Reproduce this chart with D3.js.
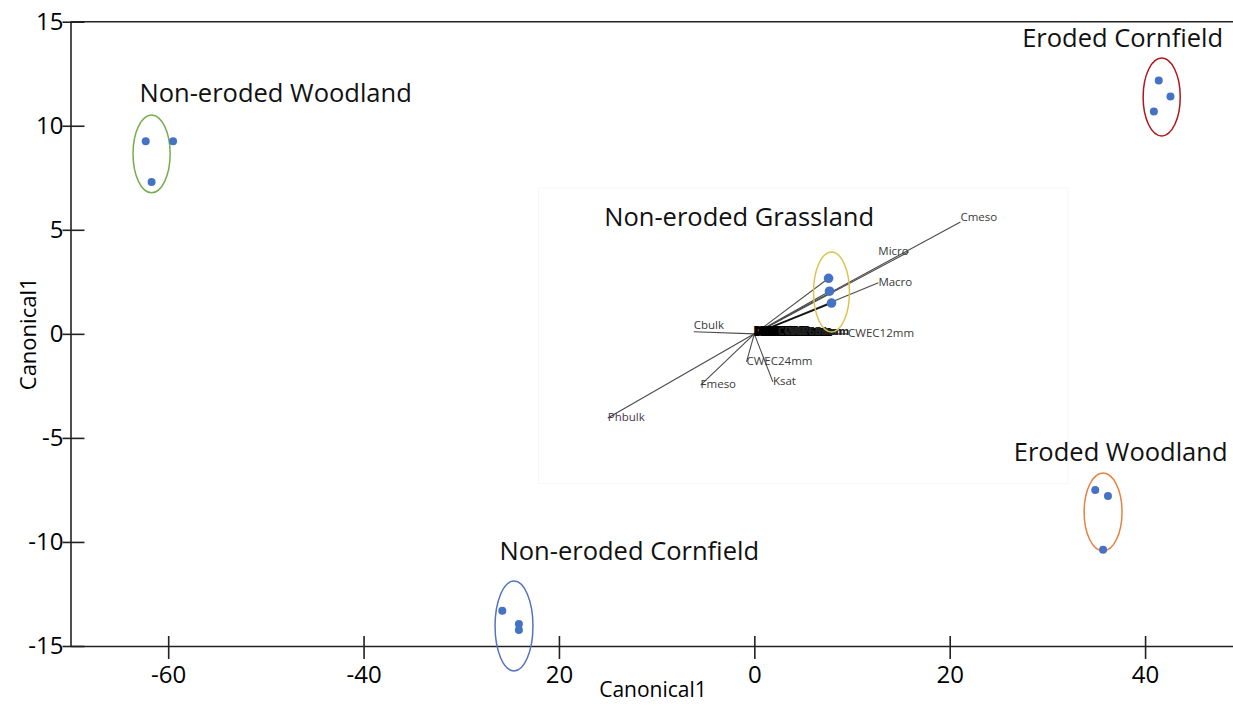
<!DOCTYPE html>
<html>
<head>
<meta charset="utf-8">
<script src="https://cdn.jsdelivr.net/npm/d3@7"></script>
<style>
  body { margin: 0; background: #fff; }
  text { font-family: "Open Sans", sans-serif; }
</style>
</head>
<body>
<svg id="chart"></svg>
<script>
const width = 1233
const height = 706

// axis ticks (the original labels -20 as "20")
const xTicks = [-60, -40, -20, 0, 20, 40]
const xTickLabels = ["-60", "-40", "20", "0", "20", "40"]
const yTicks = [15, 10, 5, 0, -5, -10, -15]

// groups, their 3 scores each, and the confidence ellipses
const groups = ["Non-eroded Woodland", "Eroded Cornfield", "Non-eroded Grassland", "Eroded Woodland", "Non-eroded Cornfield"]
const groupColors = ["#76AD4E", "#B0161E", "#D8C551", "#E8803F", "#5573BE"]
const pointsX = [[-62.3, -59.5, -61.7], [41.4, 42.6, 40.9], [7.6, 7.7, 7.9], [34.9, 36.2, 35.7], [-25.8, -24.1, -24.1]]
const pointsY = [[9.26, 9.26, 7.30], [12.18, 11.41, 10.69], [2.67, 2.05, 1.48], [-7.50, -7.79, -10.38], [-13.31, -13.94, -14.23]]
const ellipseX = [-61.7, 41.7, 7.9, 35.7, -24.6]
const ellipseY = [8.65, 11.38, 2.01, -8.56, -14.04]
const ellipseRX = [1.9, 1.9, 1.84, 1.94, 1.94]
const ellipseRY = [1.87, 1.87, 1.92, 1.87, 2.16]
const labelX = [-49.0, 37.7, -1.55, 37.5, -12.8]
const labelY = [11.57, 14.22, 5.62, -5.67, -10.43]

// biplot vectors pasted in the middle
const vecNames = ["Cmeso", "Micro", "Macro", "CWEC12mm", "Cbulk", "CWEC24mm", "Ksat", "Fmeso", "Phbulk"]
const vecX = [21.1, 15.8, 12.7, 9.6, -6.2, -0.8, 1.9, -5.5, -15.0]
const vecY = [5.38, 3.94, 2.45, 0, 0.1, -1.35, -2.31, -2.46, -4.04]
const vecAnchor = ["start", "end", "start", "start", "start", "start", "start", "start", "start"]
const crowdNames = ["DWEC12mm", "DWEC24mm", "DWEC6mm", "DWEC3mm", "CWEC6mm", "CWEC3mm", "DWEC1mm"]
const crowdX = [0, 0.6, 1.2, 1.8, 2.4, 3.0, 3.6]
const insetExtent = [[-22.1, 7.0], [32.1, -7.2]]

const x = d3.scaleLinear().domain([-70, 49]).range([70.5, 1233])
const y = d3.scaleLinear().domain([-15, 15]).range([646, 21.7])

const svg = d3.select("#chart")
              .attr("width", width)
              .attr("height", height)

// faint frame of the pasted biplot
svg.append("rect")
   .attr("x", x(insetExtent[0][0]))
   .attr("y", y(insetExtent[0][1]))
   .attr("width", x(insetExtent[1][0]) - x(insetExtent[0][0]))
   .attr("height", y(insetExtent[1][1]) - y(insetExtent[0][1]))
   .attr("fill", "none")
   .attr("stroke", "#f6f6f6")

const inset = svg.append("g")

inset.selectAll("line.vec")
     .data(vecNames)
     .join("line")
       .attr("class", "vec")
       .attr("x1", x(0)).attr("y1", y(0))
       .attr("x2", (d, i) => x(vecX[i]))
       .attr("y2", (d, i) => y(vecY[i]))
       .attr("stroke", "#4a4a4a")
       .attr("stroke-width", 1.1)

// lines from the origin to the grassland scores
inset.selectAll("line.pt")
     .data(pointsX[2])
     .join("line")
       .attr("class", "pt")
       .attr("x1", x(0)).attr("y1", y(0))
       .attr("x2", d => x(d))
       .attr("y2", (d, i) => y(pointsY[2][i]))
       .attr("stroke", (d, i) => i == 2 ? "#111" : "#4a4a4a")
       .attr("stroke-width", (d, i) => i == 2 ? 1.6 : 1.1)

inset.selectAll("text.crowd")
     .data(crowdNames)
     .join("text")
       .attr("class", "crowd")
       .attr("x", (d, i) => x(crowdX[i]))
       .attr("y", y(0))
       .attr("dy", "0.1em")
       .attr("font-size", 11)
       .attr("font-weight", "bold")
       .attr("fill", (d, i) => i < 4 ? "#000" : "#222")
       .attr("stroke", (d, i) => i < 4 ? "#000" : "none")
       .attr("stroke-width", 2)
       .text(d => d)

inset.selectAll("text.vec")
     .data(vecNames)
     .join("text")
       .attr("class", "vec")
       .attr("x", (d, i) => x(vecX[i]))
       .attr("y", (d, i) => y(vecY[i]))
       .attr("dy", (d, i) => i == 0 ? "-0.1em" : (i == 4 ? "-0.2em" : "0.3em"))
       .attr("text-anchor", (d, i) => vecAnchor[i])
       .attr("font-size", 11.5)
       .attr("fill", d => d == "Phbulk" ? "#4a3550" : "#3a3a3a")
       .text(d => d)

// axes with ticks crossing the line
const xAxis = svg.append("g")
                 .attr("transform", `translate(0,${y(-15)})`)
                 .call(d3.axisBottom(x).tickValues(xTicks).tickFormat((d, i) => xTickLabels[i]).tickSizeOuter(0))
xAxis.selectAll(".tick line").attr("y1", -10).attr("y2", 13)
xAxis.selectAll(".tick text").attr("y", 20).attr("font-size", 24).attr("font-family", "Open Sans")

const yAxis = svg.append("g")
                 .attr("transform", `translate(${x(-70)},0)`)
                 .call(d3.axisLeft(y).tickValues(yTicks).tickFormat(d => String(d)).tickSizeOuter(0))
yAxis.selectAll(".tick line").attr("x1", -8).attr("x2", 14)
yAxis.selectAll(".tick text").attr("x", -7).attr("font-size", 24).attr("font-family", "Open Sans")

svg.selectAll(".domain, .tick line").attr("stroke", "#222").attr("stroke-width", 1.6)

svg.append("line")
   .attr("x1", x(-70)).attr("x2", x(49))
   .attr("y1", y(15)).attr("y2", y(15))
   .attr("stroke", "#222").attr("stroke-width", 1.6)

svg.append("text")
   .attr("x", 653).attr("y", 690)
   .attr("dy", "0.35em")
   .attr("text-anchor", "middle")
   .attr("font-size", 21)
   .text("Canonical1")

svg.append("text")
   .attr("transform", `translate(28,${y(0)}) rotate(-90)`)
   .attr("dy", "0.35em")
   .attr("text-anchor", "middle")
   .attr("font-size", 22)
   .text("Canonical1")

// ellipses and scores
svg.selectAll("ellipse")
   .data(groups)
   .join("ellipse")
     .attr("cx", (d, i) => x(ellipseX[i]))
     .attr("cy", (d, i) => y(ellipseY[i]))
     .attr("rx", (d, i) => x(ellipseRX[i]) - x(0))
     .attr("ry", (d, i) => y(0) - y(ellipseRY[i]))
     .attr("fill", "none")
     .attr("stroke", (d, i) => groupColors[i])
     .attr("stroke-width", 1.5)

const pts = groups.flatMap((g, i) => pointsX[i].map((px, j) => ({ g: i, px: px, py: pointsY[i][j] })))
svg.selectAll("circle")
   .data(pts)
   .join("circle")
     .attr("cx", d => x(d.px))
     .attr("cy", d => y(d.py))
     .attr("r", d => d.g == 2 ? 4.8 : 4)
     .attr("fill", "#4472C4")

svg.selectAll("text.group")
   .data(groups)
   .join("text")
     .attr("class", "group")
     .attr("x", (d, i) => x(labelX[i]))
     .attr("y", (d, i) => y(labelY[i]))
     .attr("dy", "0.35em")
     .attr("text-anchor", "middle")
     .attr("font-size", 25.5)
     .attr("fill", "#111")
     .text(d => d)
</script>
</body>
</html>
